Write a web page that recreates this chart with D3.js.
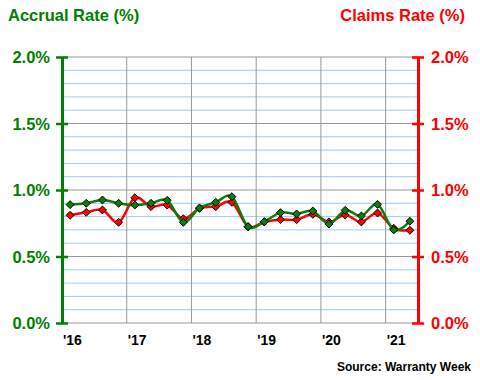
<!DOCTYPE html>
<html><head><meta charset="utf-8">
<script src="https://cdn.jsdelivr.net/npm/d3@7"></script>
<style>body{margin:0;background:#fff}svg{display:block}</style>
</head><body>
<svg id="c" width="480" height="380"></svg>
<script>
// Quarterly data, 2016 Q1 .. 2021 Q2
const quarters = ["16Q1","16Q2","16Q3","16Q4","17Q1","17Q2","17Q3","17Q4","18Q1","18Q2","18Q3","18Q4","19Q1","19Q2","19Q3","19Q4","20Q1","20Q2","20Q3","20Q4","21Q1","21Q2"];
const accrualRate = [0.89,0.90,0.925,0.90,0.887,0.90,0.922,0.757,0.865,0.907,0.95,0.724,0.762,0.83,0.82,0.842,0.744,0.847,0.805,0.892,0.70,0.765];
const claimsRate  = [0.81,0.832,0.85,0.757,0.942,0.875,0.887,0.784,0.862,0.875,0.907,0.724,0.76,0.777,0.777,0.817,0.76,0.812,0.76,0.827,0.712,0.697];
const yearTicks = [2016,2017,2018,2019,2020,2021];
const yearLabels = ["'16","'17","'18","'19","'20","'21"];
const yTicks = [0,0.5,1.0,1.5,2.0];

const svg = d3.select("#c");
const x = d3.scaleLinear().domain([2016, 2021.5]).range([62, 418]);
const y = d3.scaleLinear().domain([0, 2]).range([323, 57]);
const qx = i => x(2016 + (i + 0.5) / 4);
const GREEN = "#008000", RED = "#ff0000";
const font = "'Liberation Sans', Arial, sans-serif";

// minor gridlines
const minor = d3.range(1, 20).map(d => d / 10).filter(v => Math.abs(v*2 - Math.round(v*2)) > 1e-6);
svg.append("g").selectAll("line").data(minor).join("line")
  .attr("x1", x(2016)).attr("x2", x(2021.5))
  .attr("y1", d => y(d)).attr("y2", d => y(d))
  .attr("stroke", "#9ccbf5").attr("stroke-width", 1);
// major horizontal
svg.append("g").selectAll("line").data(yTicks).join("line")
  .attr("x1", x(2016)).attr("x2", x(2021.5))
  .attr("y1", d => y(d)).attr("y2", d => y(d))
  .attr("stroke", "#999").attr("stroke-width", 1);
// vertical gridlines
svg.append("g").selectAll("line").data(yearTicks).join("line")
  .attr("x1", d => x(d)).attr("x2", d => x(d))
  .attr("y1", y(2)).attr("y2", y(0))
  .attr("stroke", "#999").attr("stroke-width", 1);

// Left axis
const leftAxis = d3.axisLeft(y).tickValues(yTicks).tickSize(0).tickPadding(12)
  .tickFormat(d => d3.format(".1f")(d) + "%");
const gl = svg.append("g").attr("transform", `translate(${x(2016)},0)`).call(leftAxis);
gl.select(".domain").attr("stroke", GREEN).attr("stroke-width", 3);
gl.selectAll("text").attr("fill", GREEN).style("font", `bold 16.5px ${font}`).attr("dy", "0.35em");
gl.selectAll(".tick").append("line").attr("x1", -6).attr("x2", 6).attr("stroke", GREEN).attr("stroke-width", 2.5);

// Right axis
const rightAxis = d3.axisRight(y).tickValues(yTicks).tickSize(0).tickPadding(13)
  .tickFormat(d => d3.format(".1f")(d) + "%");
const gr = svg.append("g").attr("transform", `translate(${x(2021.5)},0)`).call(rightAxis);
gr.select(".domain").attr("stroke", RED).attr("stroke-width", 3);
gr.selectAll("text").attr("fill", RED).style("font", `bold 16.5px ${font}`).attr("dy", "0.35em");
gr.selectAll(".tick").append("line").attr("x1", -6).attr("x2", 6).attr("stroke", RED).attr("stroke-width", 2.5);

// X labels
svg.append("g").selectAll("text").data(yearTicks).join("text")
  .attr("x", d => x(d) + 1).attr("y", 345)
  .attr("fill", "#000").style("font", `bold 14px ${font}`)
  .text((d, i) => yearLabels[i]);

// Lines
const line = d3.line().x((d, i) => qx(i)).y(d => y(d)).curve(d3.curveCatmullRom.alpha(0));
const diamond = d3.symbol().type(d3.symbolDiamond2).size(40);

function series(data, color) {
  svg.append("path").datum(data).attr("d", line)
    .attr("fill", "none").attr("stroke", color).attr("stroke-width", 2.5);
  svg.append("g").selectAll("path").data(data).join("path")
    .attr("d", diamond)
    .attr("transform", (d, i) => `translate(${qx(i)},${y(d)})`)
    .attr("fill", color).attr("stroke", "#000").attr("stroke-width", 1);
}
series(claimsRate, RED);
series(accrualRate, "#0a7d0a");

// Titles
svg.append("text").attr("x", 8).attr("y", 21).attr("fill", GREEN)
  .style("font", `bold 16.5px ${font}`).text("Accrual Rate (%)");
svg.append("text").attr("x", 465).attr("y", 21).attr("text-anchor", "end").attr("fill", RED)
  .style("font", `bold 16.5px ${font}`).text("Claims Rate (%)");
svg.append("text").attr("x", 471).attr("y", 371).attr("text-anchor", "end").attr("fill", "#000")
  .style("font", `bold 12px ${font}`).text("Source: Warranty Week");
</script>
</body></html>
